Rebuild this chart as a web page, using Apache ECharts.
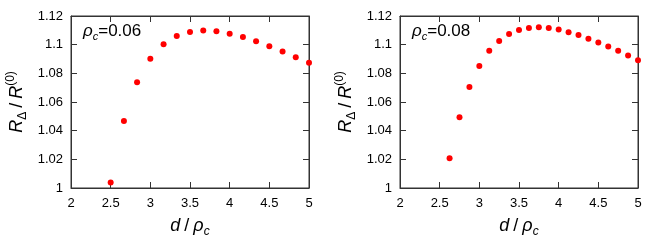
<!DOCTYPE html>
<html>
<head>
<meta charset="utf-8">
<script src="https://cdn.jsdelivr.net/npm/echarts@6/dist/echarts.min.js"></script>
<style>html,body{margin:0;padding:0;background:#fff}#c{width:661px;height:250px}</style>
</head>
<body>
<div id="c"></div>
<script>
// Panel (a): rho_c = 0.06
const xA = [2.5, 2.667, 2.833, 3.0, 3.167, 3.333, 3.5, 3.667, 3.833, 4.0, 4.167, 4.333, 4.5, 4.667, 4.833, 5.0];
const yA = [1.0039, 1.0468, 1.0737, 1.0901, 1.1003, 1.1061, 1.1089, 1.1098, 1.1093, 1.1077, 1.1054, 1.1024, 1.0989, 1.0952, 1.0913, 1.0873];
// Panel (b): rho_c = 0.08
const xB = [2.625, 2.75, 2.875, 3.0, 3.125, 3.25, 3.375, 3.5, 3.625, 3.75, 3.875, 4.0, 4.125, 4.25, 4.375, 4.5, 4.625, 4.75, 4.875, 5.0];
const yB = [1.0208, 1.0493, 1.0704, 1.0852, 1.0957, 1.1026, 1.1075, 1.1103, 1.1117, 1.1121, 1.1117, 1.1105, 1.1086, 1.1068, 1.1042, 1.1015, 1.0987, 1.0957, 1.0924, 1.0892];
const labelsAB = ['0.06', '0.08'];
const xTicks = {min: 2, max: 5, interval: 0.5};
const yTicks = {min: 1, max: 1.12, interval: 0.02};

const FONT = 'Liberation Sans';
const frame = '#333';
const rich = {
  m: {fontFamily: FONT, fontStyle: 'italic', fontSize: 18, lineHeight: 24, color: '#000', verticalAlign: 'middle'},
  n: {fontFamily: FONT, fontSize: 18, lineHeight: 24, color: '#000', verticalAlign: 'middle'},
  sp: {fontFamily: FONT, fontSize: 18, lineHeight: 24, color: '#000', width: 4},
  sub: {fontFamily: FONT, fontSize: 12, lineHeight: 12, color: '#000', verticalAlign: 'bottom'},
  subi: {fontFamily: FONT, fontStyle: 'italic', fontSize: 12, lineHeight: 12, color: '#000', verticalAlign: 'bottom'},
  sup: {fontFamily: FONT, fontSize: 12, lineHeight: 12, color: '#000', verticalAlign: 'top'}
};
const annRich = {
  m: {fontFamily: FONT, fontStyle: 'italic', fontSize: 17, lineHeight: 22, fill: '#000', verticalAlign: 'middle'},
  n: {fontFamily: FONT, fontSize: 17, lineHeight: 22, fill: '#000', verticalAlign: 'middle'},
  subi: {fontFamily: FONT, fontStyle: 'italic', fontSize: 11, lineHeight: 11, fill: '#000', verticalAlign: 'bottom'}
};

const grids = [
  {left: 71, right: 352, top: 16, bottom: 62, show: true, borderColor: frame, borderWidth: 1, backgroundColor: 'transparent'},
  {left: 400, right: 23, top: 16, bottom: 62, show: true, borderColor: frame, borderWidth: 1, backgroundColor: 'transparent'}
];
const xAxes = [], yAxes = [], series = [];
const tickStyle = {show: true, inside: true, length: 6, lineStyle: {color: frame}};
[0, 1].forEach(g => {
  xAxes.push({
    type: 'value', gridIndex: g, position: 'bottom', ...xTicks,
    axisLine: {show: true, onZero: false, lineStyle: {color: frame}},
    axisTick: tickStyle, splitLine: {show: false},
    axisLabel: {fontFamily: FONT, fontSize: 13, color: '#000', margin: 9, formatter: v => String(+v.toFixed(2))},
    name: '{m|d}{sp| }{n|/}{sp| }{m|ρ}{subi|c}', nameLocation: 'middle', nameGap: 26,
    nameTextStyle: {rich: rich}
  });
  xAxes.push({
    type: 'value', gridIndex: g, position: 'top', ...xTicks,
    axisLine: {show: true, onZero: false, lineStyle: {color: frame}},
    axisTick: tickStyle, splitLine: {show: false}, axisLabel: {show: false}
  });
  yAxes.push({
    type: 'value', gridIndex: g, position: 'left', ...yTicks,
    axisLine: {show: true, onZero: false, lineStyle: {color: frame}},
    axisTick: tickStyle, splitLine: {show: false},
    axisLabel: {fontFamily: FONT, fontSize: 13, color: '#000', margin: 8, formatter: v => String(+v.toFixed(2))},
    name: '{m|R}{sub|Δ}{sp| }{n|/}{sp| }{m|R}{sup|(0)}', nameLocation: 'middle', nameGap: 42,
    nameTextStyle: {rich: rich}
  });
  yAxes.push({
    type: 'value', gridIndex: g, position: 'right', ...yTicks,
    axisLine: {show: true, onZero: false, lineStyle: {color: frame}},
    axisTick: tickStyle, splitLine: {show: false}, axisLabel: {show: false}
  });
});
[[xA, yA], [xB, yB]].forEach((d, g) => {
  series.push({
    type: 'scatter', xAxisIndex: g * 2, yAxisIndex: g * 2,
    data: d[0].map((x, i) => [x, d[1][i]]),
    symbol: 'circle', symbolSize: 6,
    itemStyle: {color: '#ff0000', opacity: 1},
    silent: true, animation: false
  });
});

const chart = echarts.init(document.getElementById('c'), null, {renderer: 'canvas'});
chart.setOption({
  animation: false,
  backgroundColor: '#fff',
  grid: grids,
  xAxis: xAxes,
  yAxis: yAxes,
  series: series,
  graphic: labelsAB.map((t, g) => ({
    type: 'text', left: g === 0 ? 83 : 412, top: 23,
    style: {text: '{m|ρ}{subi|c}{n|=' + t + '}', rich: annRich}
  }))
});
</script>
</body>
</html>
